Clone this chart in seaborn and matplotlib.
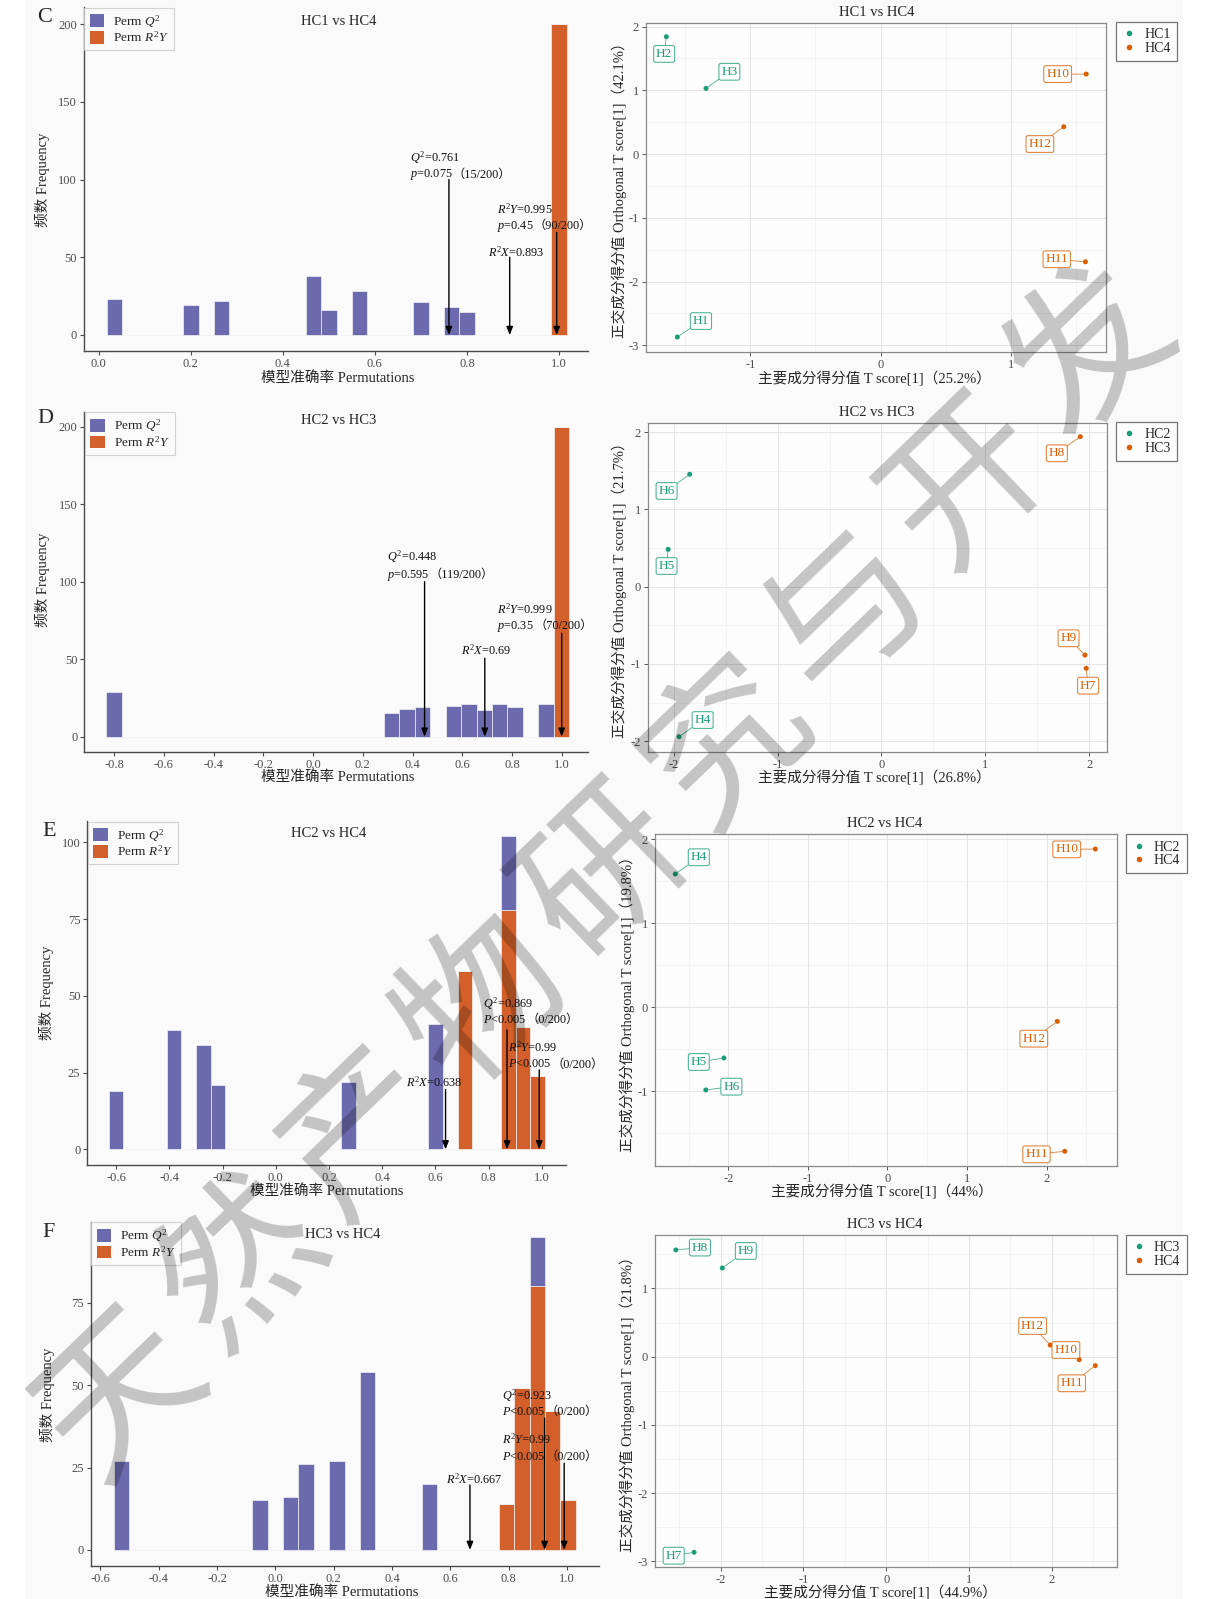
import numpy as np
import pandas as pd
import matplotlib
matplotlib.use("Agg")
import matplotlib.pyplot as plt
import seaborn as sns
from matplotlib.patches import Patch, Rectangle
from matplotlib.lines import Line2D
from matplotlib.ticker import FormatStrFormatter
from matplotlib.offsetbox import TextArea, HPacker, AnnotationBbox
from matplotlib.colors import to_rgba

# ---------------------------------------------------------------------------
# Permutation-test histograms (200 permutations per comparison)
# bin grid: centre of the first bin and bin width
# ---------------------------------------------------------------------------
C_BIN_START, C_BIN_WIDTH = 0.034, 0.0333
C_Q2_X = [0.034, 0.201, 0.267, 0.467, 0.500, 0.567, 0.700, 0.767, 0.800]
C_Q2_N = [23, 19, 22, 38, 16, 28, 21, 18, 15]
C_R2Y_X = [1.000]
C_R2Y_N = [200]

D_BIN_START, D_BIN_WIDTH = -0.800, 0.0620
D_Q2_X = [-0.800, 0.316, 0.378, 0.440, 0.564, 0.626, 0.688, 0.750, 0.812, 0.936]
D_Q2_N = [29, 15, 18, 19, 20, 21, 17, 21, 19, 21]
D_R2Y_X = [0.998]
D_R2Y_N = [200]

E_BIN_START, E_BIN_WIDTH = -0.600, 0.0546
E_Q2_X = [-0.600, -0.382, -0.272, -0.218, 0.274, 0.601, 0.874]
E_Q2_N = [19, 39, 34, 21, 22, 41, 24]
E_R2Y_X = [0.711, 0.874, 0.929, 0.984]
E_R2Y_N = [58, 78, 40, 24]

F_BIN_START, F_BIN_WIDTH = -0.528, 0.0528
F_Q2_X = [-0.528, -0.053, 0.053, 0.106, 0.211, 0.317, 0.528, 0.898]
F_Q2_N = [27, 15, 16, 26, 27, 54, 20, 15]
F_R2Y_X = [0.792, 0.845, 0.898, 0.950, 1.003]
F_R2Y_N = [14, 49, 80, 42, 15]

# observed model statistics
C_Q2, C_R2Y, C_R2X = 0.761, 0.995, 0.893
D_Q2, D_R2Y, D_R2X = 0.448, 0.999, 0.69
E_Q2, E_R2Y, E_R2X = 0.869, 0.99, 0.638
F_Q2, F_R2Y, F_R2X = 0.923, 0.99, 0.667

C_Q2_P, C_R2Y_P = ("$p$=0.075", "（15/200）"), ("$p$=0.45", "（90/200）")
D_Q2_P, D_R2Y_P = ("$p$=0.595", "（119/200）"), ("$p$=0.35", "（70/200）")
E_Q2_P, E_R2Y_P = ("$P$<0.005", "（0/200）"), ("$P$<0.005", "（0/200）")
F_Q2_P, F_R2Y_P = ("$P$<0.005", "（0/200）"), ("$P$<0.005", "（0/200）")

# ---------------------------------------------------------------------------
# OPLS-DA scores: T score[1] and orthogonal T score[1]
# ---------------------------------------------------------------------------
C_NAMES = ["H1", "H2", "H3", "H10", "H11", "H12"]
C_GROUPS = ["HC1", "HC1", "HC1", "HC4", "HC4", "HC4"]
C_T1 = [-1.559, -1.643, -1.339, 1.576, 1.570, 1.404]
C_TO1 = [-2.87, 1.84, 1.03, 1.254, -1.69, 0.428]

D_NAMES = ["H4", "H5", "H6", "H7", "H8", "H9"]
D_GROUPS = ["HC2", "HC2", "HC2", "HC3", "HC3", "HC3"]
D_T1 = [-1.949, -2.054, -1.847, 1.972, 1.915, 1.960]
D_TO1 = [-1.943, 0.484, 1.456, -1.057, 1.943, -0.885]

E_NAMES = ["H4", "H5", "H6", "H10", "H11", "H12"]
E_GROUPS = ["HC2", "HC2", "HC2", "HC4", "HC4", "HC4"]
E_T1 = [-2.667, -2.056, -2.283, 2.614, 2.229, 2.136]
E_TO1 = [1.585, -0.603, -0.983, 1.882, -1.712, -0.167]

F_NAMES = ["H7", "H8", "H9", "H10", "H11", "H12"]
F_GROUPS = ["HC3", "HC3", "HC3", "HC4", "HC4", "HC4"]
F_T1 = [-2.320, -2.540, -1.979, 2.330, 2.524, 1.980]
F_TO1 = [-2.868, 1.565, 1.300, -0.044, -0.132, 0.171]

WATERMARK = "天然产物研究与开发"

# ---------------------------------------------------------------------------
# styling
# ---------------------------------------------------------------------------
Q2_COLOR = "#6c6aae"
R2Y_COLOR = "#d3602a"
GREEN = "#1b9e77"
ORANGE = "#d95f02"
TICK_COLOR = "#4d4d4d"

W, H, DPI = 1215, 1599, 100

sns.set_theme(style="white")
plt.rcParams["font.family"] = ["Liberation Serif", "Noto Sans CJK SC"]
plt.rcParams["mathtext.fontset"] = "custom"
plt.rcParams["mathtext.rm"] = "Liberation Serif"
plt.rcParams["mathtext.it"] = "Liberation Serif:italic"
plt.rcParams["mathtext.bf"] = "Liberation Serif:bold"
plt.rcParams["axes.unicode_minus"] = False

fig = plt.figure(figsize=(W / DPI, H / DPI), dpi=DPI)
fig.patch.set_facecolor("white")
fig.patches.append(Rectangle((25 / W, 0), (1183 - 25) / W, 1, transform=fig.transFigure,
                             facecolor="#fafafa", edgecolor="none", zorder=-10))


def px_axes(box):
    l, t, r, b = box
    return fig.add_axes([l / W, 1 - b / H, (r - l) / W, (b - t) / H])


def fig_text(xy, s, **kw):
    return fig.text(xy[0] / W, 1 - xy[1] / H, s, **kw)


def rich_text(ax, x, y, parts, size=8.8):
    boxes = [TextArea(p, textprops=dict(fontsize=size, color="#111111")) for p in parts]
    pack = HPacker(children=boxes, align="baseline", pad=0, sep=0)
    ab = AnnotationBbox(pack, (x, y), xycoords="data", box_alignment=(0, 0.5),
                        frameon=False, pad=0, annotation_clip=False)
    ab.set_zorder(7)
    ax.add_artist(ab)


def hist_panel(letter, title, start, width, q_x, q_n, r_x, r_n, marks, lay):
    ax = px_axes(lay["box"])
    ax.set_facecolor("none")
    edges = [float(e) for e in start - width / 2 + width * np.arange(31)]
    df = pd.DataFrame({
        "value": list(q_x) + list(r_x),
        "count": list(q_n) + list(r_n),
        "metric": ["Q2"] * len(q_x) + ["R2Y"] * len(r_x),
    })
    sns.histplot(data=df, x="value", weights="count", hue="metric",
                 hue_order=["Q2", "R2Y"], palette={"Q2": Q2_COLOR, "R2Y": R2Y_COLOR},
                 bins=edges, multiple="stack", alpha=1, edgecolor="#f3f3f3",
                 linewidth=0.5, legend=False, ax=ax)

    for m in marks:
        ax.annotate("", xy=(m["x"], 0), xytext=(m["x"], m["top"]),
                    arrowprops=dict(arrowstyle="-|>,head_length=0.4,head_width=0.16",
                                    color="black", lw=1.0, shrinkA=0, shrinkB=0),
                    zorder=6)
        for parts, ty in zip(m["lines"], m["ys"]):
            rich_text(ax, m["tx"], ty, parts)

    ax.set_xlim(lay["xlim"])
    ax.set_ylim(lay["ylim"])
    ax.set_xticks(lay["xticks"])
    ax.set_yticks(lay["yticks"])
    ax.xaxis.set_major_formatter(FormatStrFormatter("%.1f"))
    ax.set_xlabel("")
    ax.set_ylabel("")
    for s in ("top", "right"):
        ax.spines[s].set_visible(False)
    for s in ("left", "bottom"):
        ax.spines[s].set_color("#4a4a4a")
        ax.spines[s].set_linewidth(1.0)
    ax.tick_params(length=3, width=0.8, color="#4a4a4a", labelsize=9,
                   labelcolor=TICK_COLOR, pad=2, bottom=True, left=True)

    handles = [Patch(facecolor=Q2_COLOR, edgecolor="none"),
               Patch(facecolor=R2Y_COLOR, edgecolor="none")]
    leg = ax.legend(handles, ["Perm $Q^2$", "Perm $R^2Y$"], loc="upper left",
                    bbox_to_anchor=(0, 1), borderaxespad=0.05, frameon=True,
                    fancybox=False, edgecolor="#c8c8c8", fontsize=9.5,
                    handlelength=1.1, handleheight=1.1, handletextpad=0.7,
                    labelspacing=0.05, borderpad=0.4)
    leg.get_frame().set_linewidth(0.8)
    leg.get_frame().set_facecolor("#fafafa")

    fig_text(lay["title_xy"], title, ha="center", va="center", fontsize=10.5)
    fig_text(lay["letter_xy"], letter, ha="center", va="center", fontsize=16)
    fig_text(lay["xlabel_xy"], "模型准确率 Permutations", ha="center", va="center",
             fontsize=10.5)
    fig_text(lay["ylabel_xy"], "频数 Frequency", ha="center", va="center",
             fontsize=10.5, rotation=90)
    return ax


def minor_between(ticks, lim):
    step = ticks[1] - ticks[0]
    cand = np.arange(ticks[0] - step / 2, ticks[-1] + step, step)
    return [c for c in cand if lim[0] <= c <= lim[1]]


def score_panel(title, t1, to1, groups, names, label_xy, levels, xlab, ylab, lay):
    ax = px_axes(lay["box"])
    ax.set_facecolor("#fdfdfd")
    pal = {levels[0]: GREEN, levels[1]: ORANGE}
    df = pd.DataFrame({"t1": t1, "to1": to1, "group": groups, "name": names})
    sns.scatterplot(data=df, x="t1", y="to1", hue="group", hue_order=levels,
                    palette=pal, s=13, linewidth=0, legend=False, ax=ax, zorder=4)
    for row, (lx, ly) in zip(df.itertuples(index=False), label_xy):
        c = pal[row.group]
        ax.annotate(row.name, xy=(row.t1, row.to1), xytext=(lx, ly),
                    ha="center", va="center", fontsize=9.5, color=c, zorder=5,
                    bbox=dict(boxstyle="round,pad=0.18,rounding_size=0.15",
                              fc=(1, 1, 1, 0.85), ec=to_rgba(c, 0.75), lw=0.8),
                    arrowprops=dict(arrowstyle="-", color=to_rgba(c, 0.8), lw=0.6,
                                    shrinkA=0, shrinkB=2))

    ax.set_xlim(lay["xlim"])
    ax.set_ylim(lay["ylim"])
    ax.set_xticks(lay["xticks"])
    ax.set_yticks(lay["yticks"])
    ax.set_xticks(minor_between(lay["xticks"], lay["xlim"]), minor=True)
    ax.set_yticks(minor_between(lay["yticks"], lay["ylim"]), minor=True)
    ax.grid(True, which="major", color="#e4e4e4", lw=0.7)
    ax.grid(True, which="minor", color="#efefef", lw=0.5)
    ax.set_axisbelow(True)
    ax.tick_params(which="minor", length=0)
    ax.tick_params(which="major", length=3, width=0.7, color="#555555", labelsize=9,
                   labelcolor=TICK_COLOR, pad=2, bottom=True, left=True)
    for s in ax.spines.values():
        s.set_visible(True)
        s.set_color("#8a8a8a")
        s.set_linewidth(0.9)
    ax.set_xlabel("")
    ax.set_ylabel("")

    fig_text(lay["title_xy"], title, ha="center", va="center", fontsize=10.5)
    fig_text(lay["xlabel_xy"], xlab, ha="center", va="center", fontsize=10.5)
    fig_text(lay["ylabel_xy"], ylab, ha="center", va="center", fontsize=10.5, rotation=90)

    handles = [Line2D([], [], ls="", marker="o", markersize=3, color=GREEN),
               Line2D([], [], ls="", marker="o", markersize=3, color=ORANGE)]
    lx, ly = lay["legend_xy"]
    leg = fig.legend(handles, levels, loc="upper left", bbox_to_anchor=(lx / W, 1 - ly / H),
                     frameon=True, fancybox=False, edgecolor="#555555", fontsize=10,
                     handlelength=1.0, handletextpad=0.6, labelspacing=0.05,
                     borderpad=0.45, borderaxespad=0)
    leg.get_frame().set_linewidth(0.9)
    leg.get_frame().set_facecolor("white")
    return ax


# ---------------------------------------------------------------------------
# histogram panels
# ---------------------------------------------------------------------------
hist_panel(
    "C", "HC1 vs HC4", C_BIN_START, C_BIN_WIDTH, C_Q2_X, C_Q2_N, C_R2Y_X, C_R2Y_N,
    [dict(x=C_Q2, top=100, tx=0.676, ys=[114, 103],
          lines=[[f"$Q^2$={C_Q2}"], list(C_Q2_P)]),
     dict(x=C_R2Y, top=66, tx=0.866, ys=[81, 69.6],
          lines=[[f"$R^2Y$={C_R2Y}"], list(C_R2Y_P)]),
     dict(x=C_R2X, top=50, tx=0.845, ys=[53],
          lines=[[f"$R^2X$={C_R2X}"]])],
    dict(box=(83.8, 7, 587.8, 351), xlim=(-0.032, 1.0626), ylim=(-10.3, 211),
         xticks=[0.0, 0.2, 0.4, 0.6, 0.8, 1.0], yticks=[0, 50, 100, 150, 200],
         title_xy=(338.7, 21.7), letter_xy=(44.8, 18), xlabel_xy=(337.5, 377.7),
         ylabel_xy=(42.9, 180)))

hist_panel(
    "D", "HC2 vs HC3", D_BIN_START, D_BIN_WIDTH, D_Q2_X, D_Q2_N, D_R2Y_X, D_R2Y_N,
    [dict(x=D_Q2, top=100, tx=0.298, ys=[116, 104],
          lines=[[f"$Q^2$={D_Q2}"], list(D_Q2_P)]),
     dict(x=D_R2Y, top=66.7, tx=0.741, ys=[82, 71.4],
          lines=[[f"$R^2Y$={D_R2Y}"], list(D_R2Y_P)]),
     dict(x=D_R2X, top=50.6, tx=0.595, ys=[56],
          lines=[[f"$R^2X$={D_R2X}"]])],
    dict(box=(84.2, 411.7, 587.8, 751.7), xlim=(-0.92, 1.104), ylim=(-9.7, 209.7),
         xticks=[-0.8, -0.6, -0.4, -0.2, 0.0, 0.2, 0.4, 0.6, 0.8, 1.0],
         yticks=[0, 50, 100, 150, 200],
         title_xy=(338.7, 421), letter_xy=(45.2, 418.3), xlabel_xy=(338, 776.7),
         ylabel_xy=(42.9, 580)))

hist_panel(
    "E", "HC2 vs HC4", E_BIN_START, E_BIN_WIDTH, E_Q2_X, E_Q2_N, E_R2Y_X, E_R2Y_N,
    [dict(x=E_Q2, top=38.9, tx=0.779, ys=[47.6, 42.2],
          lines=[[f"$Q^2$={E_Q2}"], list(E_Q2_P)]),
     dict(x=E_R2Y, top=25.9, tx=0.874, ys=[33.3, 27.7],
          lines=[[f"$R^2Y$={E_R2Y}"], list(E_R2Y_P)]),
     dict(x=E_R2X, top=19.5, tx=0.491, ys=[21.7],
          lines=[[f"$R^2X$={E_R2X}"]])],
    dict(box=(87.3, 821, 565.6, 1165), xlim=(-0.708, 1.089), ylim=(-5.1, 107),
         xticks=[-0.6, -0.4, -0.2, 0.0, 0.2, 0.4, 0.6, 0.8, 1.0],
         yticks=[0, 25, 50, 75, 100],
         title_xy=(328.4, 833.3), letter_xy=(49, 831), xlabel_xy=(327, 1190.7),
         ylabel_xy=(46.7, 993)))

hist_panel(
    "F", "HC3 vs HC4", F_BIN_START, F_BIN_WIDTH, F_Q2_X, F_Q2_N, F_R2Y_X, F_R2Y_N,
    [dict(x=F_Q2, top=40, tx=0.777, ys=[46.7, 41.8],
          lines=[[f"$Q^2$={F_Q2}"], list(F_Q2_P)]),
     dict(x=F_R2Y, top=26.3, tx=0.777, ys=[33.6, 28.3],
          lines=[[f"$R^2Y$={F_R2Y}"], list(F_R2Y_P)]),
     dict(x=F_R2X, top=19.7, tx=0.584, ys=[21.5],
          lines=[[f"$R^2X$={F_R2X}"]])],
    dict(box=(90.7, 1221.7, 598.9, 1565.7), xlim=(-0.633, 1.109), ylim=(-4.8, 99.6),
         xticks=[-0.6, -0.4, -0.2, 0.0, 0.2, 0.4, 0.6, 0.8, 1.0],
         yticks=[0, 25, 50, 75],
         title_xy=(342.5, 1234.3), letter_xy=(48.6, 1232.3), xlabel_xy=(341.8, 1591.7),
         ylabel_xy=(47.8, 1395)))

# ---------------------------------------------------------------------------
# score panels (label boxes placed beside their points)
# ---------------------------------------------------------------------------
C_LABEL_XY = [(-1.378, -2.62), (-1.66, 1.57), (-1.16, 1.29),
              (1.357, 1.254), (1.35, -1.65), (1.221, 0.157)]
D_LABEL_XY = [(-1.722, -1.727), (-2.069, 0.268), (-2.069, 1.24),
              (1.99, -1.282), (1.689, 1.728), (1.802, -0.668)]
E_LABEL_XY = [(-2.371, 1.784), (-2.371, -0.65), (-1.962, -0.944),
              (2.254, 1.878), (1.874, -1.748), (1.84, -0.373)]
F_LABEL_XY = [(-2.566, -2.918), (-2.249, 1.60), (-1.695, 1.55),
              (2.169, 0.098), (2.24, -0.39), (1.767, 0.45)]

YLAB = "正交成分得分值 Orthogonal T score[1]（{}）"
XLAB = "主要成分得分值 T score[1]（{}）"

score_panel("HC1 vs HC4", C_T1, C_TO1, C_GROUPS, C_NAMES, C_LABEL_XY, ["HC1", "HC4"],
            XLAB.format("25.2%"), YLAB.format("42.1%"),
            dict(box=(645.9, 22.7, 1105.9, 351.7), xlim=(-1.80, 1.727), ylim=(-3.10, 2.06),
                 xticks=[-1, 0, 1], yticks=[-3, -2, -1, 0, 1, 2],
                 title_xy=(876.5, 12.3), xlabel_xy=(874.5, 377.7), ylabel_xy=(619.6, 187),
                 legend_xy=(1115.7, 22)))

score_panel("HC2 vs HC3", D_T1, D_TO1, D_GROUPS, D_NAMES, D_LABEL_XY, ["HC2", "HC3"],
            XLAB.format("26.8%"), YLAB.format("21.7%"),
            dict(box=(647.8, 422.7, 1107, 751.7), xlim=(-2.25, 2.172), ylim=(-2.137, 2.124),
                 xticks=[-2, -1, 0, 1, 2], yticks=[-2, -1, 0, 1, 2],
                 title_xy=(876.5, 412.3), xlabel_xy=(874.5, 776.7), ylabel_xy=(619.6, 587),
                 legend_xy=(1115.7, 421.7)))

score_panel("HC2 vs HC4", E_T1, E_TO1, E_GROUPS, E_NAMES, E_LABEL_XY, ["HC2", "HC4"],
            XLAB.format("44%"), YLAB.format("19.8%"),
            dict(box=(654.9, 834.3, 1116.5, 1166), xlim=(-2.923, 2.88), ylim=(-1.887, 2.057),
                 xticks=[-2, -1, 0, 1, 2], yticks=[-1, 0, 1, 2],
                 title_xy=(885, 824), xlabel_xy=(882, 1190.7), ylabel_xy=(627.5, 1001),
                 legend_xy=(1125.5, 834.3)))

score_panel("HC3 vs HC4", F_T1, F_TO1, F_GROUPS, F_NAMES, F_LABEL_XY, ["HC3", "HC4"],
            XLAB.format("44.9%"), YLAB.format("21.8%"),
            dict(box=(654.9, 1235, 1116.5, 1567.3), xlim=(-2.793, 2.78), ylim=(-3.088, 1.784),
                 xticks=[-2, -1, 0, 1, 2], yticks=[-3, -2, -1, 0, 1],
                 title_xy=(885, 1225), xlabel_xy=(880, 1591.7), ylabel_xy=(627.5, 1401),
                 legend_xy=(1125.5, 1235)))

# journal watermark: one glyph at a time along the diagonal
wm_first, wm_last = np.array([122.0, 1395.0]), np.array([1090.0, 352.0])
for i, ch in enumerate(WATERMARK):
    cx, cy = wm_first + (wm_last - wm_first) * i / (len(WATERMARK) - 1)
    fig.text(cx / W, 1 - cy / H, ch, rotation=44, rotation_mode="anchor",
             ha="center", va="center", fontsize=115, family=["Noto Sans CJK SC"],
             weight="medium", color="black", alpha=0.22, zorder=1000)

fig.savefig("out.png", dpi=DPI, facecolor="white")
